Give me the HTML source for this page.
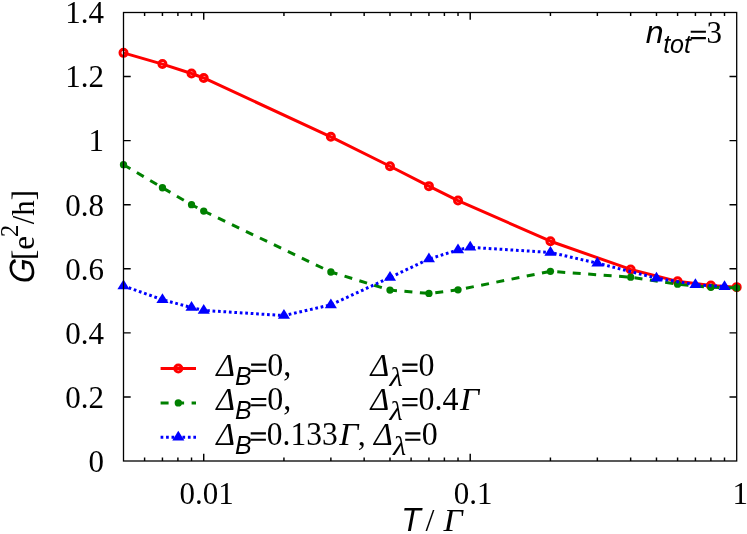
<!DOCTYPE html><html><head><meta charset="utf-8"><title>chart</title><style>html,body{margin:0;padding:0;background:#fff}svg{display:block;will-change:transform}text{fill:#000}.s{font-family:"Liberation Serif",serif}.a{font-family:"Liberation Sans",sans-serif;font-style:italic}.si{font-family:"Liberation Serif",serif;font-style:italic}</style></head><body>
<svg width="747" height="534" viewBox="0 0 747 534">
<polyline points="123.50,52.87 162.44,64.08 191.53,73.50 203.72,77.98 330.87,136.80 389.99,166.27 428.93,186.13 458.02,200.55 550.43,241.23 630.65,269.43 677.58,281.34 710.87,285.44 736.70,287.14" fill="none" stroke="#ff0000" stroke-width="3.0" stroke-linejoin="round"/>
<circle cx="123.50" cy="52.87" r="3.5" fill="none" stroke="#ff0000" stroke-width="3"/>
<circle cx="162.44" cy="64.08" r="3.5" fill="none" stroke="#ff0000" stroke-width="3"/>
<circle cx="191.53" cy="73.50" r="3.5" fill="none" stroke="#ff0000" stroke-width="3"/>
<circle cx="203.72" cy="77.98" r="3.5" fill="none" stroke="#ff0000" stroke-width="3"/>
<circle cx="330.87" cy="136.80" r="3.5" fill="none" stroke="#ff0000" stroke-width="3"/>
<circle cx="389.99" cy="166.27" r="3.5" fill="none" stroke="#ff0000" stroke-width="3"/>
<circle cx="428.93" cy="186.13" r="3.5" fill="none" stroke="#ff0000" stroke-width="3"/>
<circle cx="458.02" cy="200.55" r="3.5" fill="none" stroke="#ff0000" stroke-width="3"/>
<circle cx="550.43" cy="241.23" r="3.5" fill="none" stroke="#ff0000" stroke-width="3"/>
<circle cx="630.65" cy="269.43" r="3.5" fill="none" stroke="#ff0000" stroke-width="3"/>
<circle cx="677.58" cy="281.34" r="3.5" fill="none" stroke="#ff0000" stroke-width="3"/>
<circle cx="710.87" cy="285.44" r="3.5" fill="none" stroke="#ff0000" stroke-width="3"/>
<circle cx="736.70" cy="287.14" r="3.5" fill="none" stroke="#ff0000" stroke-width="3"/>
<polyline points="123.50,164.67 162.44,187.74 191.53,204.71 203.72,211.12 330.87,271.99 389.99,290.12 428.93,293.45 458.02,289.80 550.43,271.35 630.65,277.18 677.58,284.16 710.87,287.30 736.70,287.91" fill="none" stroke="#008000" stroke-width="3.0" stroke-dasharray="8,7.5" stroke-linejoin="round"/>
<circle cx="123.50" cy="164.67" r="3.65" fill="#008000"/>
<circle cx="162.44" cy="187.74" r="3.65" fill="#008000"/>
<circle cx="191.53" cy="204.71" r="3.65" fill="#008000"/>
<circle cx="203.72" cy="211.12" r="3.65" fill="#008000"/>
<circle cx="330.87" cy="271.99" r="3.65" fill="#008000"/>
<circle cx="389.99" cy="290.12" r="3.65" fill="#008000"/>
<circle cx="428.93" cy="293.45" r="3.65" fill="#008000"/>
<circle cx="458.02" cy="289.80" r="3.65" fill="#008000"/>
<circle cx="550.43" cy="271.35" r="3.65" fill="#008000"/>
<circle cx="630.65" cy="277.18" r="3.65" fill="#008000"/>
<circle cx="677.58" cy="284.16" r="3.65" fill="#008000"/>
<circle cx="710.87" cy="287.30" r="3.65" fill="#008000"/>
<circle cx="736.70" cy="287.91" r="3.65" fill="#008000"/>
<polyline points="123.50,285.89 162.44,299.73 191.53,307.55 203.72,310.43 283.94,315.56 330.87,304.83 389.99,277.50 428.93,259.05 458.02,249.88 470.21,247.32 550.43,252.45 597.36,263.18 656.48,278.14 695.42,284.68 724.51,286.60" fill="none" stroke="#0000ff" stroke-width="3.0" stroke-dasharray="2.7,2.76" stroke-linejoin="round"/>
<path d="M123.50 279.44L129.55 289.19L117.45 289.19Z" fill="#0000ff"/>
<path d="M162.44 293.28L168.49 303.03L156.39 303.03Z" fill="#0000ff"/>
<path d="M191.53 301.10L197.58 310.85L185.48 310.85Z" fill="#0000ff"/>
<path d="M203.72 303.98L209.77 313.73L197.67 313.73Z" fill="#0000ff"/>
<path d="M283.94 309.11L289.99 318.86L277.89 318.86Z" fill="#0000ff"/>
<path d="M330.87 298.38L336.92 308.13L324.82 308.13Z" fill="#0000ff"/>
<path d="M389.99 271.05L396.04 280.80L383.94 280.80Z" fill="#0000ff"/>
<path d="M428.93 252.60L434.98 262.35L422.88 262.35Z" fill="#0000ff"/>
<path d="M458.02 243.43L464.07 253.18L451.97 253.18Z" fill="#0000ff"/>
<path d="M470.21 240.87L476.26 250.62L464.16 250.62Z" fill="#0000ff"/>
<path d="M550.43 246.00L556.48 255.75L544.38 255.75Z" fill="#0000ff"/>
<path d="M597.36 256.73L603.41 266.48L591.31 266.48Z" fill="#0000ff"/>
<path d="M656.48 271.69L662.53 281.44L650.43 281.44Z" fill="#0000ff"/>
<path d="M695.42 278.23L701.47 287.98L689.37 287.98Z" fill="#0000ff"/>
<path d="M724.51 280.15L730.56 289.90L718.46 289.90Z" fill="#0000ff"/>
<path d="M123.50 396.93h7.2M736.70 396.93h-7.2M123.50 332.86h7.2M736.70 332.86h-7.2M123.50 268.79h7.2M736.70 268.79h-7.2M123.50 204.71h7.2M736.70 204.71h-7.2M123.50 140.64h7.2M736.70 140.64h-7.2M123.50 76.57h7.2M736.70 76.57h-7.2M144.60 461.00v-3.5M144.60 12.50v3.5M162.44 461.00v-3.5M162.44 12.50v3.5M177.90 461.00v-3.5M177.90 12.50v3.5M191.53 461.00v-3.5M191.53 12.50v3.5M203.72 461.00v-7.2M203.72 12.50v7.2M283.94 461.00v-3.5M283.94 12.50v3.5M330.87 461.00v-3.5M330.87 12.50v3.5M364.16 461.00v-3.5M364.16 12.50v3.5M389.99 461.00v-3.5M389.99 12.50v3.5M411.09 461.00v-3.5M411.09 12.50v3.5M428.93 461.00v-3.5M428.93 12.50v3.5M444.39 461.00v-3.5M444.39 12.50v3.5M458.02 461.00v-3.5M458.02 12.50v3.5M470.21 461.00v-7.2M470.21 12.50v7.2M550.43 461.00v-3.5M550.43 12.50v3.5M597.36 461.00v-3.5M597.36 12.50v3.5M630.65 461.00v-3.5M630.65 12.50v3.5M656.48 461.00v-3.5M656.48 12.50v3.5M677.58 461.00v-3.5M677.58 12.50v3.5M695.42 461.00v-3.5M695.42 12.50v3.5M710.87 461.00v-3.5M710.87 12.50v3.5M724.51 461.00v-3.5M724.51 12.50v3.5" stroke="#000" stroke-width="1.45" fill="none"/>
<rect x="123.50" y="12.50" width="613.20" height="448.50" fill="none" stroke="#000" stroke-width="1.3"/>
<text class="s" transform="translate(104,471.80) scale(1,1.045)" font-size="31" text-anchor="end">0</text>
<text class="s" transform="translate(104,407.73) scale(1,1.045)" font-size="31" text-anchor="end">0.2</text>
<text class="s" transform="translate(104,343.66) scale(1,1.045)" font-size="31" text-anchor="end">0.4</text>
<text class="s" transform="translate(104,279.59) scale(1,1.045)" font-size="31" text-anchor="end">0.6</text>
<text class="s" transform="translate(104,215.51) scale(1,1.045)" font-size="31" text-anchor="end">0.8</text>
<text class="s" transform="translate(104,151.44) scale(1,1.045)" font-size="31" text-anchor="end">1</text>
<text class="s" transform="translate(104,87.37) scale(1,1.045)" font-size="31" text-anchor="end">1.2</text>
<text class="s" transform="translate(104,23.30) scale(1,1.045)" font-size="31" text-anchor="end">1.4</text>
<text class="s" transform="translate(206.72,503.5) scale(1,1.045)" font-size="31" text-anchor="middle">0.01</text>
<text class="s" transform="translate(473.21,503.5) scale(1,1.045)" font-size="31" text-anchor="middle">0.1</text>
<text class="s" transform="translate(740.20,503.5) scale(1,1.045)" font-size="31" text-anchor="middle">1</text>
<path d="M160.6 368.5H196.0" stroke="#ff0000" stroke-width="3.0"/>
<circle cx="178.30" cy="368.50" r="3.5" fill="none" stroke="#ff0000" stroke-width="3"/>
<path d="M160.6 402.9H196.0" stroke="#008000" stroke-width="3.0" stroke-dasharray="8,7.5"/>
<circle cx="178.30" cy="402.90" r="3.65" fill="#008000"/>
<path d="M160.6 437.2H196.0" stroke="#0000ff" stroke-width="3.0" stroke-dasharray="2.7,2.76"/>
<path d="M178.30 430.75L184.35 440.50L172.25 440.50Z" fill="#0000ff"/>
<text class="si" transform="translate(216.37,376.00)" font-size="32">Δ</text>
<text class="a" transform="translate(234.99,385.00)" font-size="25">B</text>
<text class="s" transform="translate(267.13,376.00) scale(1,1.045)" font-size="32">0,</text>
<text class="si" transform="translate(370.57,376.00)" font-size="32">Δ</text>
<text class="si" transform="translate(389.38,386.00) scale(1.09,1)" font-size="28">λ</text>
<text class="s" transform="translate(418.53,376.00) scale(1,1.045)" font-size="32">0</text>
<text class="si" transform="translate(216.37,410.40)" font-size="32">Δ</text>
<text class="a" transform="translate(234.99,419.40)" font-size="25">B</text>
<text class="s" transform="translate(267.13,410.40) scale(1,1.045)" font-size="32">0,</text>
<text class="si" transform="translate(370.57,410.40)" font-size="32">Δ</text>
<text class="si" transform="translate(389.38,420.40) scale(1.09,1)" font-size="28">λ</text>
<text class="s" transform="translate(418.53,410.40) scale(1,1.045)" font-size="32">0.4</text>
<text class="si" transform="translate(460.00,410.40) scale(1.05,1)" font-size="32">Γ</text>
<text class="si" transform="translate(216.37,444.80)" font-size="32">Δ</text>
<text class="a" transform="translate(234.99,453.80)" font-size="25">B</text>
<text class="s" transform="translate(266.83,444.80) scale(1,1.045)" font-size="31.5">0.133</text>
<text class="si" transform="translate(339.20,444.80) scale(1.05,1)" font-size="32">Γ</text>
<text class="s" transform="translate(357.64,444.80)" font-size="32">,</text>
<text class="si" transform="translate(374.07,444.80)" font-size="32">Δ</text>
<text class="si" transform="translate(392.88,454.80) scale(1.09,1)" font-size="28">λ</text>
<text class="s" transform="translate(421.83,444.80) scale(1,1.045)" font-size="32">0</text>
<text class="a" transform="translate(645.74,43.20)" font-size="32">n</text>
<text class="a" transform="translate(663.14,52.80)" font-size="25">tot</text>
<text class="s" transform="translate(706.39,43.20) scale(1,1.045)" font-size="31">3</text>
<text class="a" transform="translate(401.19,531.20) scale(1,1.050)" font-size="32">T</text>
<text class="s" transform="translate(425.55,531.20)" font-size="32">/</text>
<text class="si" transform="translate(443.40,531.20) scale(1.05,1)" font-size="32">Γ</text>
<g transform="rotate(-90)"><text class="a" transform="translate(-283.68,34.00) skewX(-3.5) scale(1,1.100)" font-size="32">G</text><text class="s" transform="translate(-259.95,34.00)" font-size="31">[e</text><text class="s" transform="translate(-237.05,17.70)" font-size="24.5">2</text><text class="s" transform="translate(-224.26,34.00)" font-size="31">/h]</text></g>
<path d="M251.10 364.60h15.2M251.10 370.90h15.2M402.30 364.60h15.2M402.30 370.90h15.2M251.10 399.00h15.2M251.10 405.30h15.2M402.30 399.00h15.2M402.30 405.30h15.2M250.70 433.40h15.2M250.70 439.70h15.2M405.20 433.40h15.2M405.20 439.70h15.2M690.70 31.80h15.2M690.70 38.10h15.2" stroke="#000" stroke-width="2.1" fill="none"/>
</svg></body></html>
